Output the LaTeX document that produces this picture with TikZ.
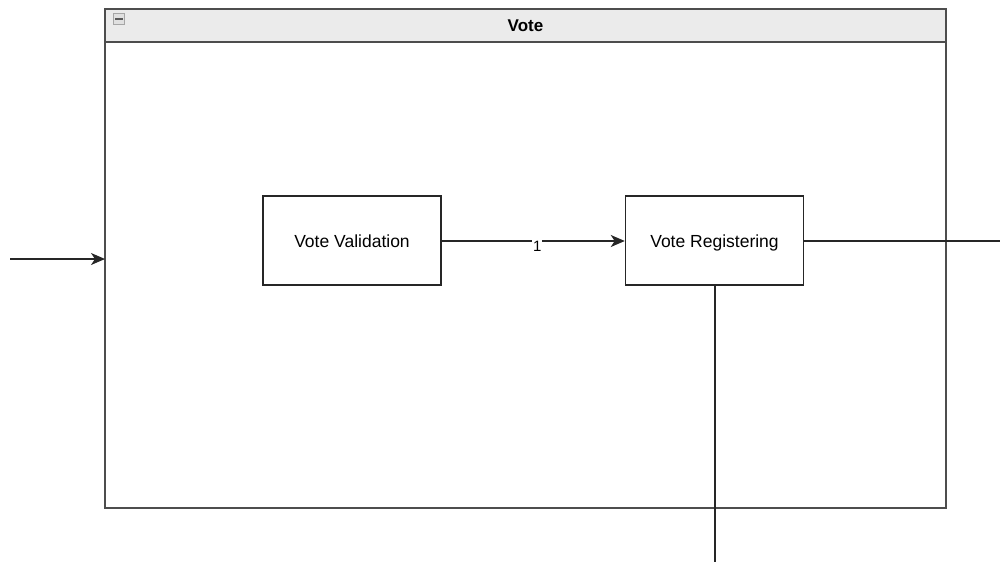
\documentclass[tikz,border=0pt]{standalone}
\usepackage{fontspec}
\setmainfont{Liberation Sans}
\usetikzlibrary{arrows.meta}
\definecolor{edge}{HTML}{4D4D4D}
\definecolor{headfill}{HTML}{EBEBEB}
\tikzset{
  frameline/.style={draw=edge, line width=2pt},
  procbox/.style={draw=black!85, line width=1.5pt, fill=white, minimum width=178pt, minimum height=89pt, inner sep=0pt, text height=13pt, text depth=0pt, font=\fontsize{17.5}{20}\selectfont},
  flow/.style={draw=black!85, line width=1.5pt},
  flowarrow/.style={flow, -{Stealth[length=14pt, width=12pt, inset=4pt]}},
}
\begin{document}
\begin{tikzpicture}[x=1pt, y=-1pt]
  \useasboundingbox (0,0) rectangle (1000,562);
  % swimlane container with a header band
  \fill[white] (105,9) rectangle (946,508);
  \fill[headfill] (105,9) rectangle (946,42);
  \draw[frameline] (105,9) rectangle (946,508);
  \draw[frameline] (105,42) -- (946,42);
  \node[font=\bfseries\fontsize{17}{20}\selectfont] (title) at (525.5,25.5) {Vote};
  % collapse toggle in the header corner
  \node[draw=black!35, fill=black!12, line width=1pt, minimum size=11pt, inner sep=0pt] (toggle) at (119,19) {};
  \draw[black!65, line width=1.2pt] (115,19) -- (123,19);
  % process boxes
  \node[procbox] (val) at (352,240.5) {Vote Validation};
  \node[procbox] (reg) at (714.5,240.5) {Vote Registering};
  % connectors
  \coordinate (inL) at (10,259);
  \coordinate (inR) at (105,259);
  \coordinate (outR) at (1000,241);
  \coordinate (outB) at (715,562);
  \draw[flowarrow] (inL) -- (inR);
  \draw[flowarrow] (val.east |- 0,241) -- (reg.west |- 0,241)
    node[pos=0.5, fill=white, inner sep=1pt, xshift=4pt, yshift=-5pt, font=\fontsize{15}{17}\selectfont] (lbl) {1};
  \draw[flow] (reg.east |- 0,241) -- (outR);
  \draw[flow] (reg.south -| outB) -- (outB);
\end{tikzpicture}
\end{document}
